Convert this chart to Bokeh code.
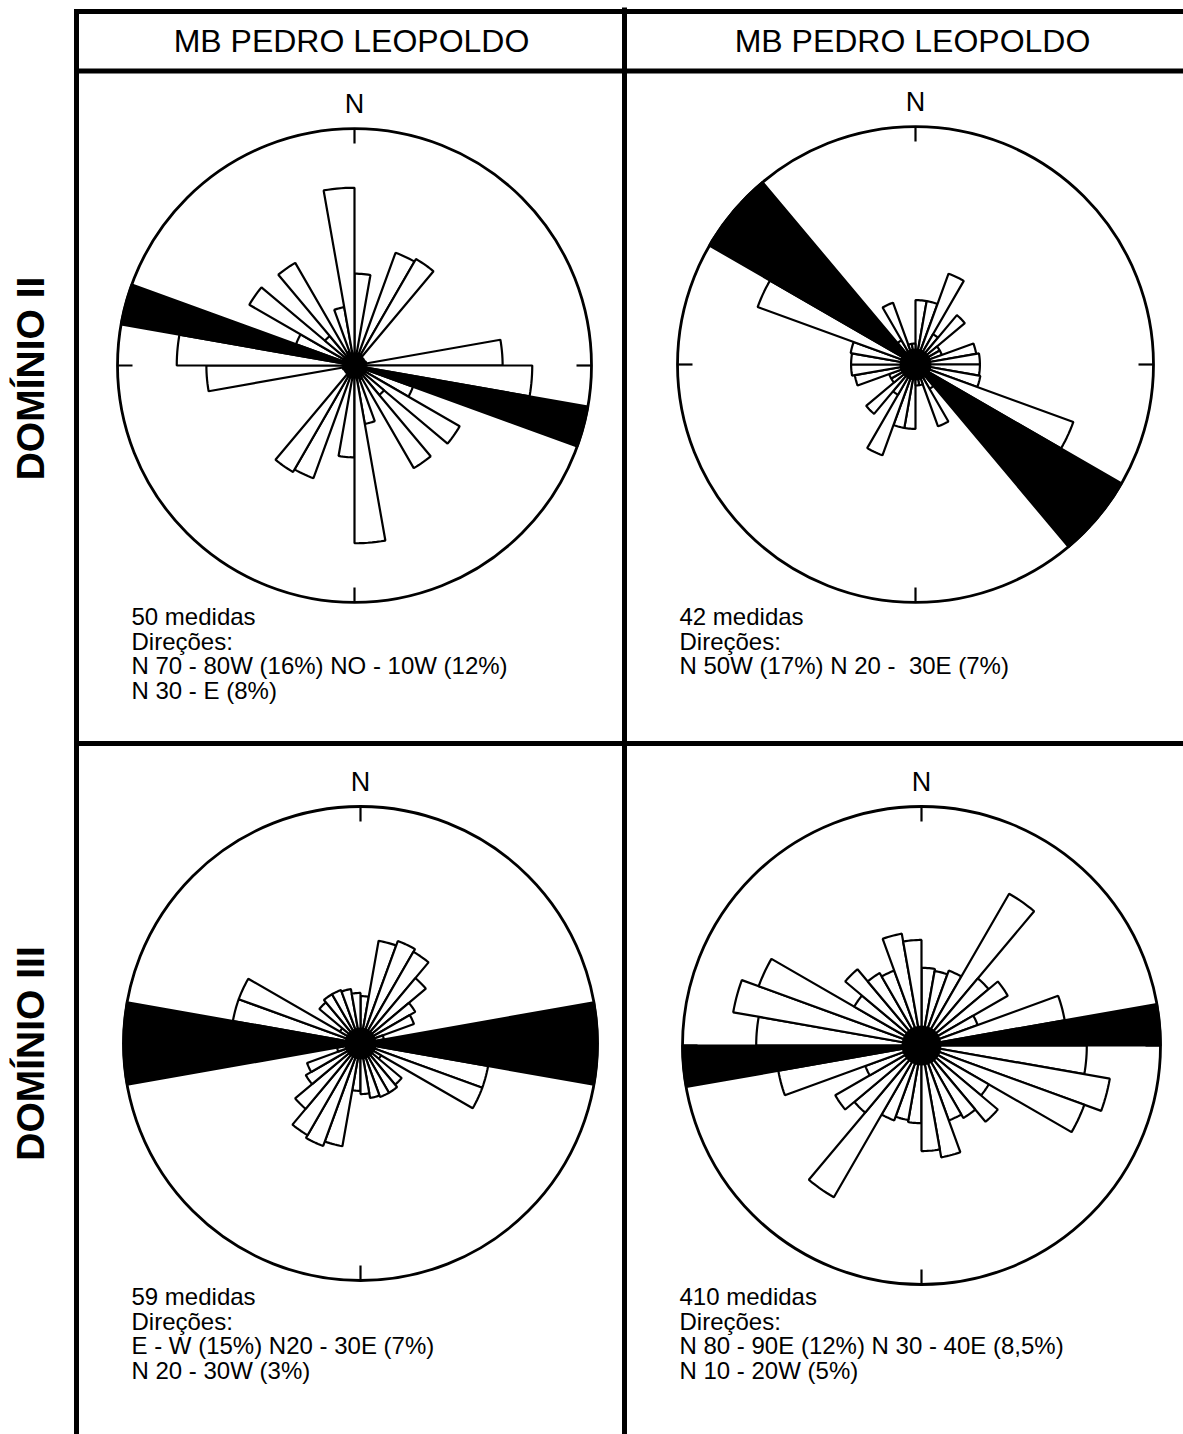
import numpy as np
from bokeh.plotting import figure
from bokeh.models import Range1d, Label
from bokeh.embed import file_html
from bokeh.resources import INLINE

# ---------------- data (percent per 10-degree azimuth bin, 0-180, mirrored) -------------
bin_start = list(range(0, 180, 10))

tl_values = [6.2, 0.8, 8.1, 8.3, 0.6, 0.6, 0.6, 0.8, 10.0, 12.0, 16.0, 4.2, 8.2, 2.6, 8.0, 1.0, 4.0, 12.0]
tl_black = [100]
tr_values = [4.6, 4.6, 6.9, 2.5, 4.6, 2.0, 2.0, 4.4, 4.6, 4.6, 4.7, 12.0, 17.0, 17.0, 2.0, 4.7, 1.5, 1.5]
tr_black = [120, 130]
bl_values = [3.0, 6.6, 6.9, 6.7, 5.4, 4.0, 3.6, 1.5, 15.0, 15.0, 8.2, 8.2, 1.5, 3.4, 3.6, 3.6, 3.5, 3.2]
bl_black = [80, 90]
br_values = [3.9, 3.8, 4.0, 8.8, 4.4, 5.0, 3.0, 7.3, 12.0, 8.3, 9.6, 8.7, 3.9, 5.0, 4.2, 4.0, 5.7, 5.3]
br_black = [80]

headers = ["MB PEDRO LEOPOLDO", "MB PEDRO LEOPOLDO"]
row_labels = ["DOMÍNIO II", "DOMÍNIO III"]
tl_notes = ["50 medidas", "Direções:", "N 70 - 80W (16%) NO - 10W (12%)", "N 30 - E (8%)"]
tr_notes = ["42 medidas", "Direções:", "N 50W (17%) N 20 -\u00a0 30E (7%)"]
bl_notes = ["59 medidas", "Direções:", "E - W (15%) N20 - 30E (7%)", "N 20 - 30W (3%)"]
br_notes = ["410 medidas", "Direções:", "N 80 - 90E (12%) N 30 - 40E (8,5%)", "N 10 - 20W (5%)"]

# ---------------- layout (image pixels) ----------------
W, H = 1183, 1434
FONT = "Liberation Sans"
panels = [
    dict(vals=tl_values, black=tl_black, cx=354, cy=365, R=237, blob=12, notes=tl_notes, tx=131, ty=616),
    dict(vals=tr_values, black=tr_black, cx=915, cy=364, R=238, blob=16, notes=tr_notes, tx=679, ty=616),
    dict(vals=bl_values, black=bl_black, cx=360, cy=1043, R=237, blob=16, notes=bl_notes, tx=131, ty=1296),
    dict(vals=br_values, black=br_black, cx=921, cy=1045, R=239, blob=20, notes=br_notes, tx=679, ty=1296),
]

p = figure(width=W, height=H, x_range=Range1d(0, W), y_range=Range1d(H, 0),
           output_backend="svg", toolbar_location=None, min_border=0)
p.axis.visible = False
p.grid.visible = False
p.outline_line_color = None
p.background_fill_color = "white"
p.border_fill_color = "white"

# table lines
LW = 5
p.segment(x0=[73.5, 73.5, 76, 76, 624], y0=[11, 70.5, 743, 8.5, 7],
          x1=[W, W, W, 76, 624], y1=[11, 70.5, 743, H, H],
          line_color="black", line_width=LW)

for hx, htxt in zip([351, 912], headers):
    p.add_layout(Label(x=hx, y=40, text=htxt, text_align="center", text_baseline="middle",
                       text_font=FONT, text_font_size="32px", text_color="black"))

for ly, ltxt in zip([378, 1053], row_labels):
    p.add_layout(Label(x=30, y=ly, text=ltxt, angle=90, angle_units="deg", text_align="center",
                       text_baseline="middle", text_font=FONT, text_font_style="bold",
                       text_font_size="39px", text_color="black"))


def petal(cx, cy, r, a0, a1, n=8):
    az = np.radians(np.linspace(a0, a1, n))
    xs = [cx] + list(cx + r * np.sin(az)) + [cx]
    ys = [cy] + list(cy - r * np.cos(az)) + [cy]
    return xs, ys


for pn in panels:
    cx, cy, R = pn["cx"], pn["cy"], pn["R"]
    vmax = max(pn["vals"])
    wx, wy, bx, by = [], [], [], []
    for a, v in zip(bin_start, pn["vals"]):
        r = v / vmax * R
        for off in (0, 180):
            xs, ys = petal(cx, cy, r, a + off, a + off + 10)
            if a in pn["black"]:
                bx.append(xs); by.append(ys)
            else:
                wx.append(xs); wy.append(ys)
    p.patches(wx, wy, fill_color="white", line_color="black", line_width=2.2)
    p.patches(bx, by, fill_color="black", line_color="black", line_width=2.2)
    p.circle(x=[cx], y=[cy], radius=pn["blob"], fill_color="black", line_color=None)
    # outer circle
    p.circle(x=[cx], y=[cy], radius=R, fill_color=None, line_color="black", line_width=2.8)
    # cardinal ticks
    t = 15
    p.segment(x0=[cx, cx, cx - R, cx + R], y0=[cy - R, cy + R, cy, cy],
              x1=[cx, cx, cx - R + t, cx + R - t], y1=[cy - R + t, cy + R - t, cy, cy],
              line_color="black", line_width=2.2)
    p.add_layout(Label(x=cx, y=cy - R - 25, text="N", text_align="center", text_baseline="alphabetic",
                       text_font=FONT, text_font_size="27px", text_color="black"))
    for i, line in enumerate(pn["notes"]):
        p.add_layout(Label(x=pn["tx"], y=pn["ty"] + i * 24.5, text=line, text_align="left",
                           text_baseline="alphabetic", text_font=FONT, text_font_size="24px",
                           text_color="black"))

open("out.html", "w").write(file_html(p, INLINE))
